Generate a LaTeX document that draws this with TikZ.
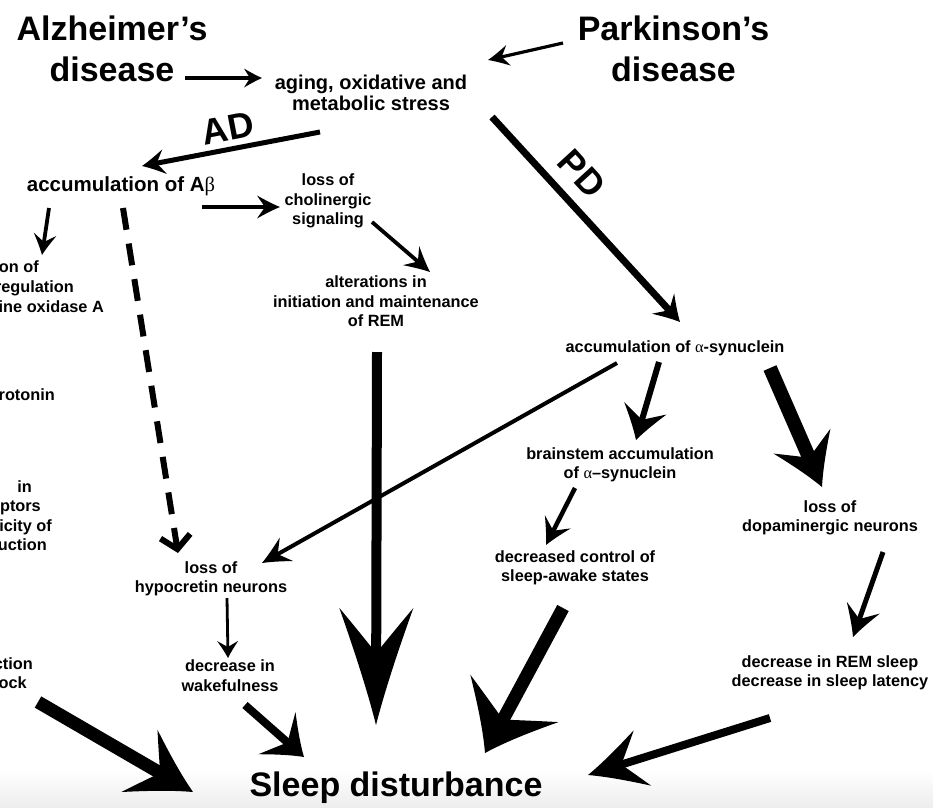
\documentclass[tikz,border=0pt]{standalone}
\usepackage{fontspec}
\setmainfont{Liberation Sans}
\newfontfamily\grk{Liberation Serif}
\newcommand\gk[1]{{\grk\mdseries #1}}
\usetikzlibrary{arrows.meta,calc}
\newdimen\swtmp
\pgfdeclarearrow{
  name = Swept,
  parameters = {\the\pgfarrowlength,\the\pgfarrowwidth,\the\pgfarrowinset},
  setup code = {
    \pgfarrowssettipend{0pt}
    \pgfarrowssetbackend{-\pgfarrowlength}
    \pgfarrowssetvisualbackend{-\pgfarrowlength}
    \swtmp=\pgfarrowinset
    \advance\swtmp by -\pgfarrowlength
    \advance\swtmp by 1pt
    \pgfarrowssetlineend{\swtmp}
    \pgfarrowssavethe\pgfarrowlength
    \pgfarrowssavethe\pgfarrowwidth
    \pgfarrowssavethe\pgfarrowinset
  },
  drawing code = {
    \pgfpathmoveto{\pgfpointorigin}
    \pgfpathcurveto{\pgfqpoint{-0.35\pgfarrowlength}{0.14\pgfarrowwidth}}{\pgfqpoint{-0.75\pgfarrowlength}{0.36\pgfarrowwidth}}{\pgfqpoint{-\pgfarrowlength}{0.5\pgfarrowwidth}}
    \pgfpathcurveto{\pgfpoint{-\pgfarrowlength+0.35*\pgfarrowinset}{0.32*\pgfarrowwidth}}{\pgfpoint{-\pgfarrowlength+0.8*\pgfarrowinset}{0.1*\pgfarrowwidth}}{\pgfpoint{-\pgfarrowlength+\pgfarrowinset}{0pt}}
    \pgfpathcurveto{\pgfpoint{-\pgfarrowlength+0.8*\pgfarrowinset}{-0.1*\pgfarrowwidth}}{\pgfpoint{-\pgfarrowlength+0.35*\pgfarrowinset}{-0.32*\pgfarrowwidth}}{\pgfqpoint{-\pgfarrowlength}{-0.5\pgfarrowwidth}}
    \pgfpathcurveto{\pgfqpoint{-0.75\pgfarrowlength}{-0.36\pgfarrowwidth}}{\pgfqpoint{-0.35\pgfarrowlength}{-0.14\pgfarrowwidth}}{\pgfpointorigin}
    \pgfpathclose
    \pgfusepathqfill
  },
  defaults = {length=20pt, width=20pt, inset=8pt}
}
\tikzset{
  txt/.style={inner sep=0pt, align=center, font=\fontsize{16.3}{19.5}\selectfont\bfseries},
  big/.style={inner sep=0pt, align=center, font=\fontsize{34}{41}\selectfont\bfseries},
  frag/.style={inner sep=0pt, anchor=base east, font=\fontsize{16.3}{19.5}\selectfont\bfseries},
  lbl/.style={inner sep=0pt, font=\fontsize{36}{40}\selectfont\bfseries},
  arr/.style n args={4}{draw=black, line width=#1pt, -{Swept[length=#2pt,width=#3pt,inset=#4pt]}},
  dasharr/.style={draw=black, line width=6pt, dash pattern=on 22pt off 14pt, -{Straight Barb[length=13pt,width=30pt]}}
}
\begin{document}
\begin{tikzpicture}[x=1pt,y=-1pt]
\useasboundingbox (0,0) rectangle (933,807);
\shade[top color=white,bottom color=black!7] (0,770) rectangle (933,807);

% nodes
\node[big] (adt) at (112,49) {Alzheimer’s\\disease};
\node[big] (pdt) at (673.5,49) {Parkinson’s\\disease};
\node[inner sep=0pt, align=center, font=\fontsize{20}{20.5}\selectfont\bfseries] (aging) at (371,93) {aging, oxidative and\\metabolic stress};
\node[inner sep=0pt, font=\fontsize{20.5}{24}\selectfont\bfseries] (accb) at (121,186.5) {accumulation of A\gk{β}};
\node[txt] (chol) at (328,201) {loss of\\cholinergic\\signaling};
\node[txt] (alter) at (376,301.5) {alterations in\\initiation and maintenance\\of REM};
\node[txt] (hypo) at (211,579) {loss of\\hypocretin neurons};
\node[txt] (wake) at (230,675.5) {decrease in\\wakefulness};
\node[txt] (asyn) at (675,348) {accumulation of \gk{α}-synuclein};
\node[txt] (brain) at (620,465) {brainstem accumulation\\of \gk{α}–synuclein};
\node[txt] (ctrl) at (575,568) {decreased control of\\sleep-awake states};
\node[txt] (dopa) at (830,518) {loss of\\dopaminergic neurons};
\node[txt] (rem) at (830,673) {decrease in REM sleep\\decrease in sleep latency};
\node[big] (sleep) at (396,788) {Sleep disturbance};
\node[lbl, rotate=11] (adl) at (228,128) {AD};
\node[lbl, rotate=-47.5] (pdl) at (582,174) {PD};

% cut-off texts at the left edge
\node[frag] (f1) at (39,272) {on of};
\node[frag] (f2) at (74,292) {regulation};
\node[frag] (f3) at (104,312) {ine oxidase A};
\node[frag] (f4) at (55,400) {rotonin};
\node[frag] (f5) at (32,492) {in};
\node[frag] (f6) at (41,511) {ptors};
\node[frag] (f7) at (52,531) {icity of};
\node[frag] (f8) at (47,550) {uction};
\node[frag] (f9) at (33,669) {ction};
\node[frag] (f10) at (27,688) {ock};

% connectors
\draw[arr={3.2}{18}{19}{6}] ($(adt)+(73,29)$) -- ($(aging)+(-109,-15)$);
\draw[arr={3.2}{21}{21}{7}] ($(pdt)+(-110.5,-6)$) -- ($(aging)+(117,-33)$);
\draw[arr={5}{23}{25}{8}] ($(aging)+(-51,39)$) -- ($(accb)+(21,-20.5)$);
\draw[arr={7}{25}{30}{9}] ($(aging)+(121,24)$) -- ($(asyn)+(5,-26)$);
\draw[arr={3.8}{23}{23}{8}] ($(accb)+(81,20.5)$) -- ($(chol)+(-48,6)$);
\draw[arr={3.8}{25}{25}{9}] ($(chol)+(44,21)$) -- ($(alter)+(54,-29.5)$);
\draw[arr={3.8}{21}{23}{8}] ($(accb)+(-72,21.5)$) -- ($(f1.base east)+(3,-17)$);
\draw[dasharr] ($(accb)+(2,21.5)$) -- ($(hypo)+(-33,-26)$);
\draw[arr={10}{117}{74}{45}] ($(alter)+(1,50.5)$) -- ($(sleep)+(-20,-63)$);
\draw[arr={2.8}{17}{21}{6}] ($(hypo)+(16,19)$) -- ($(wake)+(-2,-17.5)$);
\draw[arr={8}{36}{56}{14}] ($(wake)+(15,29.5)$) -- ($(sleep)+(-92,-31)$);
\draw[arr={13}{62}{72}{24}] ($(f10.base east)+(11,14)$) -- ($(sleep)+(-203,4)$);
\draw[arr={13}{62}{100}{24}] ($(ctrl)+(-12,40)$) -- ($(sleep)+(89,-35)$);
\draw[arr={8}{57}{58}{22}] ($(rem)+(-60,45)$) -- ($(sleep)+(192,-13)$);
\draw[arr={6}{33}{44}{12}] ($(asyn)+(-16,14)$) -- ($(brain)+(16,-25)$);
\draw[arr={14}{50}{62}{18}] ($(asyn)+(95,20)$) -- ($(dopa)+(-8,-31)$);
\draw[arr={4}{28}{27}{10}] ($(asyn)+(-58,15)$) -- ($(hypo)+(51,-16)$);
\draw[arr={4.5}{26}{29}{10}] ($(brain)+(-45,23)$) -- ($(ctrl)+(-29,-23)$);
\draw[arr={5}{31}{35}{12}] ($(dopa)+(53,34)$) -- ($(rem)+(23,-36)$);
\end{tikzpicture}
\end{document}
